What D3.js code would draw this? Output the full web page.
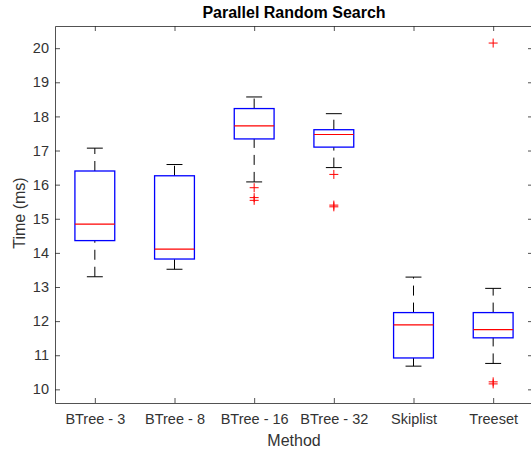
<!DOCTYPE html>
<html>
<head>
<meta charset="utf-8">
<style>
    body { margin: 0; background: #fff; }
    svg { display: block; }
    .axis text { font: 14.5px "Liberation Sans", Arial, sans-serif; fill: #333; }
    .axis path, .axis line { stroke: #262626; stroke-width: 0.8px; }
    .whisker { stroke: #000; stroke-width: 1px; stroke-dasharray: 10 7; }
    .cap { stroke: #000; stroke-width: 1px; }
    .box { fill: none; stroke: #0000ff; stroke-width: 1.3px; }
    .median { stroke: #ff0000; stroke-width: 1.2px; }
    .outlier { stroke: #ff0000; stroke-width: 1px; }
</style>
</head>
<body>
<div id="chart"></div>
<script src="https://cdn.jsdelivr.net/npm/d3@7"></script>
<script>

const widthValue = 531;
const heightValue = 450;

// data
const methods = ["BTree - 3", "BTree - 8", "BTree - 16", "BTree - 32", "Skiplist", "Treeset"];
const lowWhisker = [13.30, 13.52, 16.08, 16.50, 10.68, 10.76];
const q1 = [14.36, 13.82, 17.34, 17.10, 10.92, 11.51];
const medians = [14.84, 14.11, 17.72, 17.47, 11.89, 11.75];
const q3 = [16.40, 16.26, 18.23, 17.61, 12.25, 12.25];
const highWhisker = [17.07, 16.59, 18.57, 18.08, 13.29, 12.96];
const outliers = [
    [],
    [],
    [15.91, 15.62, 15.54],
    [16.30, 15.40, 15.35],
    [],
    [20.15, 10.22, 10.16]
];
const yTicks = [10, 11, 12, 13, 14, 15, 16, 17, 18, 19, 20];

const margin = { top: 26, bottom: 47, left: 55, right: -2 };
const width = widthValue - margin.left - margin.right;
const height = heightValue - margin.top - margin.bottom;

const svg = d3.select("#chart")
    .append("svg")
    .attr("width", widthValue)
    .attr("height", heightValue);

const g = svg.append("g").attr("transform", "translate(" + margin.left + "," + margin.top + ")");

// x is numeric like matlab: categories at 1..6, limits 0.5..6.5
const x = d3.scaleLinear().domain([0.5, methods.length + 0.5]).range([0, width]);
const y = d3.scaleLinear().domain([9.6, 20.65]).range([height, 0]);

const pos = methods.map(function (d, i) { return i + 1; });

// axes, ticks inward
g.append("g")
    .attr("class", "axis axis--x")
    .attr("transform", "translate(0," + height + ")")
    .call(d3.axisBottom(x).tickValues(pos).tickFormat(function (d) { return methods[d - 1]; })
        .tickSizeInner(-5).tickSizeOuter(0).tickPadding(11));

g.append("g")
    .attr("class", "axis axis--y")
    .call(d3.axisLeft(y).tickValues(yTicks).tickSizeInner(-5).tickSizeOuter(0).tickPadding(6));

g.append("g")
    .attr("class", "axis")
    .call(d3.axisTop(x).tickValues(pos).tickFormat("").tickSizeInner(-5).tickSizeOuter(0));

g.append("g")
    .attr("class", "axis")
    .attr("transform", "translate(" + width + ",0)")
    .call(d3.axisRight(y).tickValues(yTicks).tickFormat("").tickSizeInner(-5).tickSizeOuter(0));

const boxW = x(1.25) - x(1);
const capW = x(1.1) - x(1);

const item = g.selectAll(".item")
    .data(methods)
    .enter().append("g")
    .attr("class", "item");

// whiskers: upper drawn from box up, lower drawn from whisker end up to box
item.append("line")
    .attr("class", "whisker")
    .attr("x1", function (d, i) { return x(pos[i]); })
    .attr("x2", function (d, i) { return x(pos[i]); })
    .attr("y1", function (d, i) { return y(q3[i]); })
    .attr("y2", function (d, i) { return y(highWhisker[i]); });

item.append("line")
    .attr("class", "whisker")
    .attr("x1", function (d, i) { return x(pos[i]); })
    .attr("x2", function (d, i) { return x(pos[i]); })
    .attr("y1", function (d, i) { return y(lowWhisker[i]); })
    .attr("y2", function (d, i) { return y(q1[i]); });

item.append("line")
    .attr("class", "cap")
    .attr("x1", function (d, i) { return x(pos[i]) - capW; })
    .attr("x2", function (d, i) { return x(pos[i]) + capW; })
    .attr("y1", function (d, i) { return y(highWhisker[i]); })
    .attr("y2", function (d, i) { return y(highWhisker[i]); });

item.append("line")
    .attr("class", "cap")
    .attr("x1", function (d, i) { return x(pos[i]) - capW; })
    .attr("x2", function (d, i) { return x(pos[i]) + capW; })
    .attr("y1", function (d, i) { return y(lowWhisker[i]); })
    .attr("y2", function (d, i) { return y(lowWhisker[i]); });

// boxes
item.append("rect")
    .attr("class", "box")
    .attr("x", function (d, i) { return x(pos[i]) - boxW; })
    .attr("width", boxW * 2)
    .attr("y", function (d, i) { return y(q3[i]); })
    .attr("height", function (d, i) { return y(q1[i]) - y(q3[i]); });

item.append("line")
    .attr("class", "median")
    .attr("x1", function (d, i) { return x(pos[i]) - boxW; })
    .attr("x2", function (d, i) { return x(pos[i]) + boxW; })
    .attr("y1", function (d, i) { return y(medians[i]); })
    .attr("y2", function (d, i) { return y(medians[i]); });

// outliers as "+"
const pts = [];
outliers.forEach(function (arr, i) {
    arr.forEach(function (v) { pts.push({ p: pos[i], v: v }); });
});

g.selectAll(".outlier")
    .data(pts)
    .enter().append("path")
    .attr("class", "outlier")
    .attr("d", function (d) {
        const cx = x(d.p), cy = y(d.v), r = 4.5;
        return "M" + (cx - r) + "," + cy + "H" + (cx + r) + "M" + cx + "," + (cy - r) + "V" + (cy + r);
    });

// labels
svg.append("text")
    .attr("x", 294)
    .attr("y", 18)
    .attr("text-anchor", "middle")
    .style("font", "bold 16px 'Liberation Sans', Arial, sans-serif")
    .style("fill", "#000")
    .text("Parallel Random Search");

svg.append("text")
    .attr("x", margin.left + x(3.5))
    .attr("y", 446)
    .attr("text-anchor", "middle")
    .style("font", "16px 'Liberation Sans', Arial, sans-serif")
    .style("fill", "#333")
    .text("Method");

svg.append("text")
    .attr("transform", "translate(25,213) rotate(-90)")
    .attr("text-anchor", "middle")
    .style("font", "16px 'Liberation Sans', Arial, sans-serif")
    .style("fill", "#333")
    .text("Time (ms)");

</script>
</body>
</html>
